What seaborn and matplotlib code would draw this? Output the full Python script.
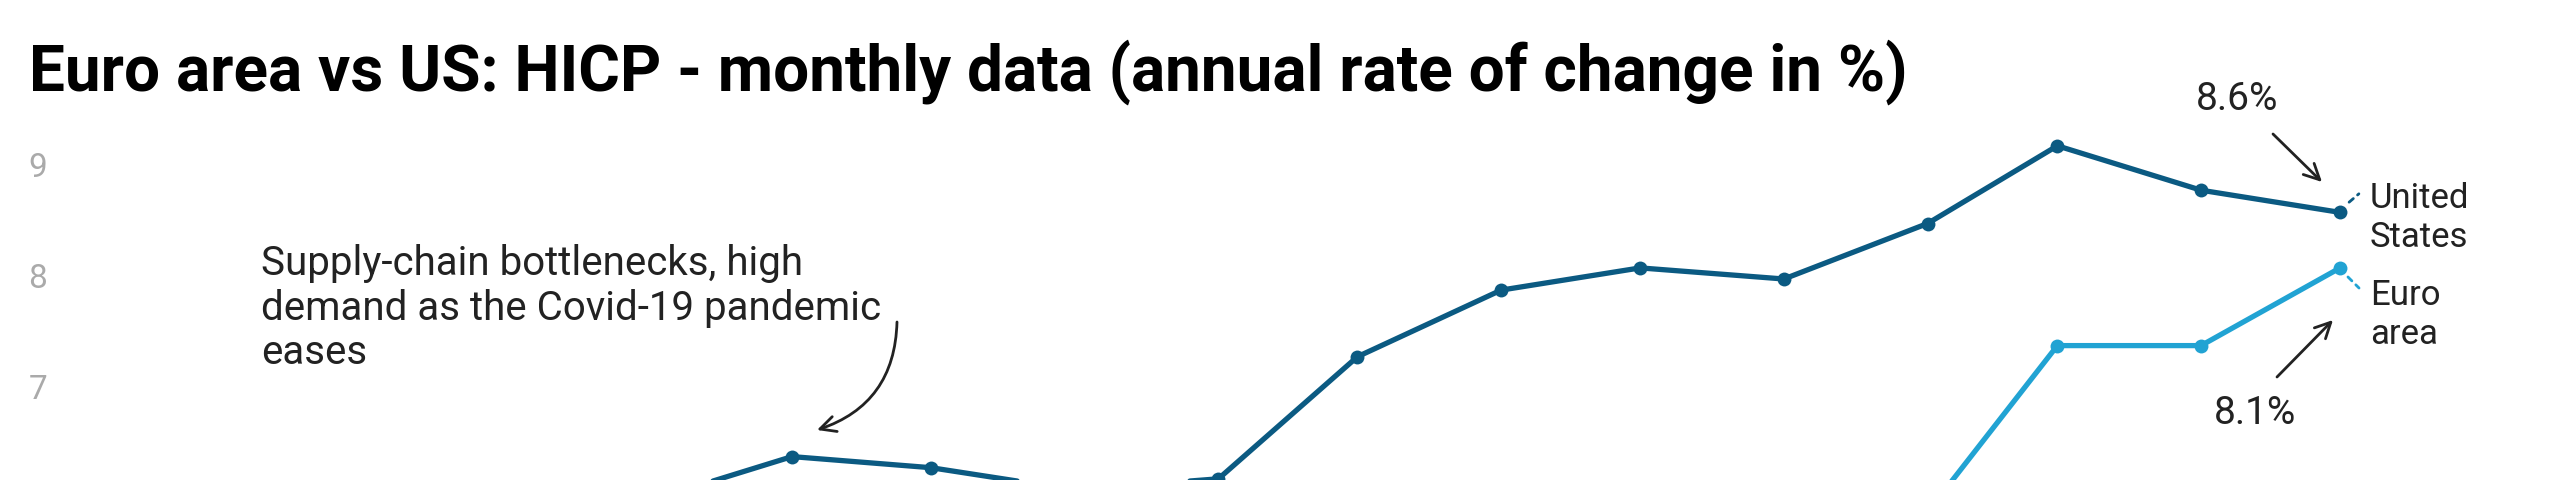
import pandas as pd
import matplotlib.pyplot as plt
import matplotlib.dates as mdates
import seaborn as sns

# Data (annual rate of change, %)
us_months = ['2021-05', '2021-06', '2021-07', '2021-08', '2021-09', '2021-10', '2021-11',
             '2021-12', '2022-01', '2022-02', '2022-03', '2022-04', '2022-05']
us_values = [6.0, 6.4, 6.3, 6.1, 6.2, 7.3, 7.9, 8.1, 8.0, 8.5, 9.2, 8.8, 8.6]
ea_months = ['2022-02', '2022-03', '2022-04', '2022-05']
ea_values = [5.9, 7.4, 7.4, 8.1]
y_ticks = [7, 8, 9]

title = 'Euro area vs US: HICP - monthly data (annual rate of change in %)'
note = 'Supply-chain bottlenecks, high\ndemand as the Covid-19 pandemic\neases'

US_COLOR = '#0b5a82'
EA_COLOR = '#21a3d3'
TEXT = '#222222'

df = pd.concat([
    pd.DataFrame({'date': pd.to_datetime(us_months), 'value': us_values, 'series': 'United States'}),
    pd.DataFrame({'date': pd.to_datetime(ea_months), 'value': ea_values, 'series': 'Euro area'}),
])

sns.set_style('white')
plt.rcParams['font.family'] = ['Roboto', 'DejaVu Sans']

W, H = 2560, 480
fig = plt.figure(figsize=(W / 100, H / 100), dpi=100)
ax = fig.add_axes([0, 0, 1, 1])

sns.lineplot(data=df, x='date', y='value', hue='series',
             palette={'United States': US_COLOR, 'Euro area': EA_COLOR},
             marker='o', markersize=10, markeredgewidth=0, linewidth=3.8,
             legend=False, ax=ax)

# Only the top of the original chart is visible: map pixels to dates / values
anchor = mdates.date2num(pd.Timestamp('2021-06-01'))
px_day = 4.635
ax.set_xlim(anchor - 792 / px_day, anchor + (W - 792) / px_day)
ax.set_ylim(9 - (H - 168) / 111, 9 + 168 / 111)
ax.axis('off')

for t in y_ticks:
    ax.text(38 / W, t, str(t), transform=ax.get_yaxis_transform(),
            ha='center', va='center', fontsize=24, color='#aaaaaa')


def fx(x):
    return x / W


def fy(y):
    return 1 - y / H


fig.text(fx(29), fy(72), title, ha='left', va='center', fontsize=46,
         fontweight='bold', color='black')

fig.text(fx(261), fy(308), note, ha='left', va='center', fontsize=29,
         linespacing=1.17, color=TEXT)

fig.text(fx(2237), fy(100), '8.6%', ha='center', va='center', fontsize=28, color=TEXT)
fig.text(fx(2255), fy(413), '8.1%', ha='center', va='center', fontsize=28, color=TEXT)
fig.text(fx(2370), fy(218), 'United\nStates', ha='left', va='center', fontsize=25,
         linespacing=1.2, color=TEXT)
fig.text(fx(2370), fy(315), 'Euro\narea', ha='left', va='center', fontsize=25,
         linespacing=1.2, color=TEXT)


def arrow(start, end, rad=0.0):
    ax.annotate('', xy=(end[0], H - end[1]), xycoords='figure pixels',
                xytext=(start[0], H - start[1]), textcoords='figure pixels',
                arrowprops=dict(arrowstyle='->', color=TEXT, lw=2,
                                mutation_scale=28, shrinkA=0, shrinkB=0,
                                connectionstyle=f'arc3,rad={rad}'))


arrow((897, 322), (817, 430), rad=-0.35)
arrow((2273, 134), (2322, 182))
arrow((2277, 377), (2333, 320))

# dotted leader lines to the series labels
ax.annotate('', xy=(2361, H - 192), xycoords='figure pixels',
            xytext=(2347, H - 204), textcoords='figure pixels',
            arrowprops=dict(arrowstyle='-', color=US_COLOR, lw=2, linestyle=(0, (2, 2))))
ax.annotate('', xy=(2361, H - 290), xycoords='figure pixels',
            xytext=(2346, H - 275), textcoords='figure pixels',
            arrowprops=dict(arrowstyle='-', color=EA_COLOR, lw=2, linestyle=(0, (2, 2))))

fig.savefig('out.png', dpi=100)
